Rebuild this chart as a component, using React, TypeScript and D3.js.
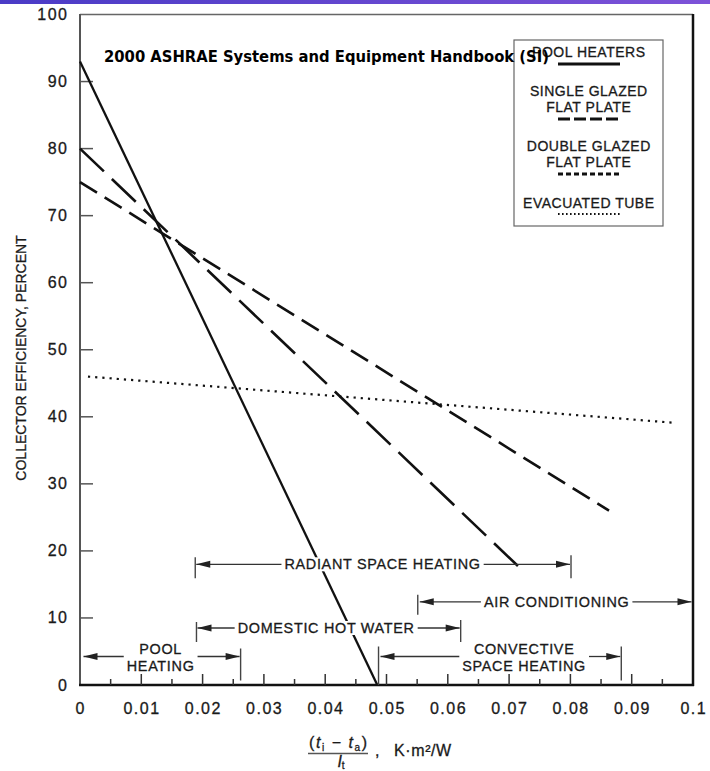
import React, { useEffect, useRef } from 'react';
import * as d3 from 'd3';

const W = 710;
const H = 771;

// Collector efficiency curves: [ (ti - ta)/It in K·m²/W , efficiency in percent ]
const poolHeaters: [number, number][] = [[0, 93], [0.0485, 0]];
const singleGlazed: [number, number][] = [[0, 80], [0.0723, 17]];
const doubleGlazed: [number, number][] = [[0, 75], [0.0863, 26]];
const evacuatedTube: [number, number][] = [[0.0013, 46], [0.097, 39.1]];

// Axis ticks
const xMajorTicks = [0, 0.01, 0.02, 0.03, 0.04, 0.05, 0.06, 0.07, 0.08, 0.09, 0.1];
const xTickLabels = ['0', '0.01', '0.02', '0.03', '0.04', '0.05', '0.06', '0.07', '0.08', '0.09', '0.1'];
const xMinorTicks = [0.005, 0.015, 0.025, 0.035, 0.045, 0.055, 0.065, 0.075, 0.085, 0.095];
const yTicks = [0, 10, 20, 30, 40, 50, 60, 70, 80, 90, 100];
const yTickLabels = ['0', '10', '20', '30', '40', '50', '60', '70', '80', '90', '100'];

// Application ranges along the x axis
const appNames = [
  ['RADIANT SPACE HEATING'],
  ['AIR CONDITIONING'],
  ['DOMESTIC HOT WATER'],
  ['POOL', 'HEATING'],
  ['CONVECTIVE', 'SPACE HEATING'],
];
const appFrom = [0.0188, 0.0551, 0.019, 0, 0.0487];
const appTo = [0.0801, 0.1, 0.0621, 0.0262, 0.0883];
const appLevel = [18, 12.4, 8.5, 4.25, 4.25];

// Legend entries
const legendLabels = [
  ['POOL HEATERS'],
  ['SINGLE GLAZED', 'FLAT PLATE'],
  ['DOUBLE GLAZED', 'FLAT PLATE'],
  ['EVACUATED TUBE'],
];

const SANS = '"Liberation Sans", Arial, Helvetica, sans-serif';
const INK = '#1a1a1a';

export default function App() {
  const ref = useRef<SVGSVGElement>(null);

  useEffect(() => {
    const svg = d3.select(ref.current);
    svg.selectAll('*').remove();

    const x = d3.scaleLinear().domain([0, 0.1]).range([80, 693]);
    const y = d3.scaleLinear().domain([0, 100]).range([685, 14.5]);

    // printed text is slightly heavy, so give it a faint outline
    const ink = (sel: any) => sel.attr('fill', INK).attr('stroke', INK).attr('stroke-width', 0.3);

    // top gradient strip
    const defs = svg.append('defs');
    const grad = defs.append('linearGradient').attr('id', 'strip').attr('x1', '0').attr('x2', '1');
    grad.append('stop').attr('offset', '0').attr('stop-color', '#4a3bc6');
    grad.append('stop').attr('offset', '1').attr('stop-color', '#7d52d8');
    svg.append('rect').attr('x', 0).attr('y', 0).attr('width', W).attr('height', 4).attr('fill', 'url(#strip)');

    // frame
    const frame = svg.append('g');
    frame.append('line').attr('x1', x(0)).attr('x2', x(0.1)).attr('y1', y(100)).attr('y2', y(100))
      .attr('stroke', '#666').attr('stroke-width', 1.5);
    frame.append('line').attr('x1', x(0)).attr('x2', x(0)).attr('y1', y(100) - 0.5).attr('y2', y(0) + 1)
      .attr('stroke', '#555').attr('stroke-width', 2);
    frame.append('line').attr('x1', x(0.1)).attr('x2', x(0.1)).attr('y1', y(100) - 0.5).attr('y2', y(0) + 1)
      .attr('stroke', '#111').attr('stroke-width', 2.5);
    frame.append('line').attr('x1', x(0) - 1).attr('x2', x(0.1) + 1).attr('y1', y(0)).attr('y2', y(0))
      .attr('stroke', '#111').attr('stroke-width', 2.5);

    // y ticks (inward)
    svg.append('g').selectAll('line').data(yTicks.filter((v) => v > 0 && v < 100)).join('line')
      .attr('x1', x(0)).attr('x2', x(0) + 13).attr('y1', (d) => y(d)).attr('y2', (d) => y(d))
      .attr('stroke', '#555').attr('stroke-width', 1.5);

    // x ticks (inward)
    svg.append('g').selectAll('line').data(xMajorTicks.filter((v) => v > 0 && v < 0.1)).join('line')
      .attr('x1', (d) => x(d)).attr('x2', (d) => x(d)).attr('y1', y(0)).attr('y2', y(0) - 11)
      .attr('stroke', '#333').attr('stroke-width', 1.5);
    svg.append('g').selectAll('line').data(xMinorTicks).join('line')
      .attr('x1', (d) => x(d)).attr('x2', (d) => x(d)).attr('y1', y(0)).attr('y2', y(0) - 6)
      .attr('stroke', '#333').attr('stroke-width', 1.5);

    // tick labels
    ink(svg.append('g').selectAll('text').data(yTicks).join('text')
      .attr('x', 68.5).attr('y', (d) => y(d) + 5.5)
      .attr('text-anchor', 'end').attr('font-family', SANS).attr('font-size', 16)
      .attr('letter-spacing', 1.5)
      .text((d, i) => yTickLabels[i]));
    ink(svg.append('g').selectAll('text').data(xMajorTicks).join('text')
      .attr('x', (d) => x(d) + 0.75).attr('y', 714)
      .attr('text-anchor', 'middle').attr('font-family', SANS).attr('font-size', 16)
      .attr('letter-spacing', 1.5)
      .text((d, i) => xTickLabels[i]));

    // y axis title
    ink(svg.append('text')
      .attr('transform', 'translate(26,358) rotate(-90)')
      .attr('text-anchor', 'middle').attr('font-family', SANS).attr('font-size', 14)
      .text('COLLECTOR EFFICIENCY,  PERCENT'));

    // x axis title: (ti - ta)/It , K·m²/W
    const num = ink(svg.append('text')
      .attr('x', 338).attr('y', 748).attr('text-anchor', 'middle')
      .attr('font-family', SANS).attr('font-size', 16)
      .attr('textLength', 58).attr('lengthAdjust', 'spacing'));
    num.append('tspan').text('(');
    num.append('tspan').attr('font-style', 'italic').text('t');
    num.append('tspan').attr('font-size', 10).attr('dy', 3).text('i');
    num.append('tspan').attr('dy', -3).text(' \u2212 ');
    num.append('tspan').attr('font-style', 'italic').text('t');
    num.append('tspan').attr('font-size', 10).attr('dy', 3).text('a');
    num.append('tspan').attr('dy', -3).text(')');
    svg.append('line').attr('x1', 308).attr('x2', 368).attr('y1', 753.5).attr('y2', 753.5)
      .attr('stroke', '#555').attr('stroke-width', 1.4);
    const den = ink(svg.append('text')
      .attr('x', 341).attr('y', 767).attr('text-anchor', 'middle')
      .attr('font-family', SANS).attr('font-size', 16));
    den.append('tspan').attr('font-style', 'italic').text('I');
    den.append('tspan').attr('font-size', 10).attr('dy', 2).text('t');
    ink(svg.append('text').attr('x', 375).attr('y', 756).attr('font-family', SANS).attr('font-size', 16)
      .text(','));
    ink(svg.append('text').attr('x', 394).attr('y', 756).attr('font-family', SANS).attr('font-size', 16)
      .attr('letter-spacing', 0.6).text('K\u00b7m\u00b2/W'));

    // curves
    const line = d3.line<[number, number]>().x((d) => x(d[0])).y((d) => y(d[1]));
    const curves = svg.append('g').attr('fill', 'none').attr('stroke', '#111');
    curves.append('path').attr('d', line(poolHeaters)).attr('stroke-width', 2.3);
    curves.append('path').attr('d', line(singleGlazed)).attr('stroke-width', 2.6).attr('stroke-dasharray', '33 11');
    curves.append('path').attr('d', line(doubleGlazed)).attr('stroke-width', 2.6).attr('stroke-dasharray', '20 9');
    curves.append('path').attr('d', line(evacuatedTube)).attr('stroke-width', 2.2).attr('stroke-dasharray', '2.2 5');

    // application range annotations
    const labelAt = [0.0493, 0.0777, 0.0401, 0.0131, 0.0724];
    const tickL: (number[] | null)[] = [[7, 14], [7, 13], [6, 14], null, [10, 28.5]];
    const tickR: (number[] | null)[] = [[9, 14], null, [8, 14], [8, 24], [10, 24]];
    const tipPad = [1, 2, 1, 3.5, 2];

    const arrow = (g: any, tip: number, yy: number, dir: number) => {
      g.append('path')
        .attr('d', `M${tip},${yy} L${tip - dir * 14},${yy - 3.5} L${tip - dir * 14},${yy + 3.5} Z`)
        .attr('fill', '#222');
    };

    const ann = svg.append('g');
    appNames.forEach((lines, i) => {
      const g = ann.append('g');
      const yy = y(appLevel[i]);
      const xl = x(appFrom[i]);
      const xr = x(appTo[i]);
      const cx = x(labelAt[i]);
      const bg = g.append('rect').attr('fill', '#fff');
      const t = ink(g.append('text').attr('text-anchor', 'middle').attr('font-family', SANS)
        .attr('font-size', 14.4).attr('letter-spacing', 0.7));
      if (lines.length === 1) {
        t.append('tspan').attr('x', cx + 0.35).attr('y', yy + 5).text(lines[0]);
      } else {
        t.append('tspan').attr('x', cx + 0.35).attr('y', yy - 2.5).text(lines[0]);
        t.append('tspan').attr('x', cx + 0.35).attr('y', yy + 14.5).text(lines[1]);
      }
      const bb = (t.node() as SVGTextElement).getBBox();
      bg.attr('x', bb.x - 2).attr('y', bb.y + 1).attr('width', bb.width + 4).attr('height', bb.height - 2);
      const leftTip = xl + tipPad[i];
      const rightTip = xr - (i === 1 ? 1.5 : 1);
      g.append('line').attr('x1', leftTip).attr('x2', bb.x - 3).attr('y1', yy).attr('y2', yy)
        .attr('stroke', '#333').attr('stroke-width', 1.3);
      g.append('line').attr('x1', bb.x + bb.width + 3).attr('x2', rightTip).attr('y1', yy).attr('y2', yy)
        .attr('stroke', '#333').attr('stroke-width', 1.3);
      arrow(g, leftTip, yy, -1);
      arrow(g, rightTip, yy, 1);
      const tl = tickL[i];
      if (tl) g.append('line').attr('x1', xl).attr('x2', xl).attr('y1', yy - tl[0]).attr('y2', yy + tl[1])
        .attr('stroke', '#444').attr('stroke-width', 1.4);
      const tr = tickR[i];
      if (tr) g.append('line').attr('x1', xr).attr('x2', xr).attr('y1', yy - tr[0]).attr('y2', yy + tr[1])
        .attr('stroke', '#444').attr('stroke-width', 1.4);
    });

    // legend
    const lg = svg.append('g');
    lg.append('rect').attr('x', 514).attr('y', 40).attr('width', 149).attr('height', 186)
      .attr('fill', '#fff').attr('stroke', '#666').attr('stroke-width', 1.2);
    const lcx = 588.5;
    const labelBase = [[57], [96, 112], [151, 167], [208]];
    const sampleY = [64, 119, 174, 214];
    const sampleDash = [null, '12 4', '5 3', '1.6 2.4'];
    const sampleWidth = [3, 3, 3, 2.2];
    legendLabels.forEach((lines, i) => {
      lines.forEach((s, j) => {
        ink(lg.append('text').attr('x', lcx + 0.3).attr('y', labelBase[i][j]).attr('text-anchor', 'middle')
          .attr('font-family', SANS).attr('font-size', 14).attr('letter-spacing', 0.5)
          .text(s));
      });
      const sl = lg.append('line').attr('x1', 558).attr('x2', 620).attr('y1', sampleY[i]).attr('y2', sampleY[i])
        .attr('stroke', '#111').attr('stroke-width', sampleWidth[i]);
      if (sampleDash[i]) sl.attr('stroke-dasharray', sampleDash[i] as string);
    });

    // title
    svg.append('text').attr('x', 104).attr('y', 61.5)
      .attr('font-family', '"DejaVu Sans", Verdana, sans-serif').attr('font-weight', 'bold')
      .attr('font-size', 16).attr('fill', '#000')
      .attr('textLength', 445).attr('lengthAdjust', 'spacingAndGlyphs')
      .text('2000 ASHRAE Systems and Equipment Handbook (SI)');
  }, []);

  return (
    <svg
      ref={ref}
      width={W}
      height={H}
      style={{ position: 'absolute', left: 0, top: 0, background: '#fff', display: 'block' }}
    />
  );
}
